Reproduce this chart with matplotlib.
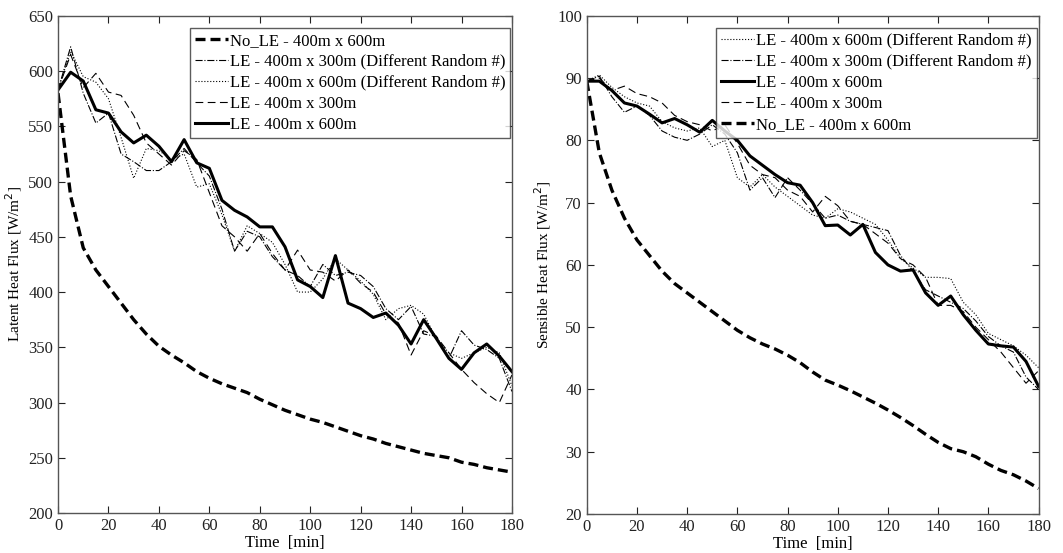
import numpy as np
import matplotlib
matplotlib.use('Agg')
import matplotlib.pyplot as plt

plt.rcParams['font.family'] = ['Liberation Serif', 'DejaVu Serif']

time = list(range(0, 181, 5))

# latent heat flux (left panel)
lat_nole = [580, 487, 440, 420, 405, 390, 375, 362, 351, 343, 336, 328, 322, 317, 313, 309, 303,
            298, 293, 289, 285, 282, 278, 274, 270, 267, 263, 260, 257, 254, 252, 250, 246, 244,
            241, 239, 237]
lat_600 = [583, 599, 591, 565, 562, 545, 535, 542, 532, 518, 538, 517, 512, 483, 474, 468, 459,
           459, 441, 411, 405, 395, 433, 390, 385, 377, 381, 370, 353, 375, 358, 340, 330, 345,
           353, 342, 328]
lat_300 = [583, 615, 585, 598, 581, 578, 560, 535, 525, 515, 528, 520, 490, 460, 450, 437, 453,
           435, 420, 438, 420, 418, 410, 420, 408, 400, 380, 372, 343, 365, 360, 345, 330, 318,
           308, 300, 325]
lat_300_rnd = [583, 622, 580, 553, 562, 525, 518, 510, 510, 518, 530, 517, 505, 475, 437, 455,
               450, 432, 420, 415, 405, 425, 415, 418, 415, 405, 385, 375, 387, 362, 360, 340,
               365, 352, 348, 340, 310]
lat_600_rnd = [583, 618, 595, 590, 575, 540, 503, 530, 528, 520, 525, 495, 498, 470, 437, 460,
               453, 445, 425, 400, 400, 412, 430, 420, 410, 398, 375, 385, 388, 380, 358, 345,
               340, 345, 350, 345, 315]

# sensible heat flux (right panel)
sen_nole = [89.5, 78, 72, 67.5, 64, 61.5, 59, 57, 55.5, 54, 52.5, 51, 49.5, 48.3, 47.3, 46.5,
            45.5, 44.3, 42.8, 41.5, 40.7, 39.8, 38.8, 37.8, 36.7, 35.5, 34.2, 32.8, 31.5, 30.5,
            30, 29.2, 28, 27, 26.3, 25.3, 24.1]
sen_600 = [89.5, 89.5, 88, 86, 85.5, 84.2, 82.8, 83.5, 82.5, 81.3, 83.2, 81.5, 80, 77.5, 76,
           74.5, 73.2, 72.8, 70, 66.3, 66.4, 64.8, 66.5, 62, 60, 59, 59.2, 55.5, 53.5, 55, 52,
           49.5, 47.3, 47, 46.8, 44.5, 40.5]
sen_300 = [89.5, 90, 88, 88.7, 87.5, 87, 86, 84, 83, 82.5, 81.5, 82.5, 79.5, 76, 74.5, 74, 72,
           71, 68.5, 71, 69.5, 67, 66.5, 65, 63.5, 61, 60, 58, 53.5, 53.5, 52.5, 50, 48, 46,
           43.5, 41, 43]
sen_300_rnd = [89.5, 90.3, 87, 84.5, 85.5, 84, 81.5, 80.5, 80, 81, 82.5, 81, 78, 72, 74, 70.8,
               74, 72, 69.8, 67.5, 68, 67, 66.5, 66, 65.5, 61.5, 59, 56, 55, 54, 53, 51, 48.5,
               47, 46, 42, 40]
sen_600_rnd = [89.5, 90.5, 88.5, 87, 86, 85.5, 83, 82, 81.5, 82, 79, 80, 74, 72.5, 74.5, 72.5,
               71, 69.5, 68, 67.5, 69, 68.5, 67.5, 66.5, 64, 61, 59.5, 58, 58, 57.8, 54, 52, 49,
               48, 47, 45.5, 43.5]

lab_nole = 'No_LE - 400m x 600m'
lab_600 = 'LE - 400m x 600m'
lab_300 = 'LE - 400m x 300m'
lab_300r = 'LE - 400m x 300m (Different Random #)'
lab_600r = 'LE - 400m x 600m (Different Random #)'

fig = plt.figure(figsize=(10.63, 5.53), dpi=100)
ax1 = fig.add_axes([0.0546, 0.0723, 0.427, 0.899])
ax2 = fig.add_axes([0.552, 0.0705, 0.425, 0.901])

def style(ax, ylo, yhi, ystep, ylabel):
    ax.set_xlim(0, 180)
    ax.set_ylim(ylo, yhi)
    ax.set_xticks(range(0, 181, 20))
    ax.set_yticks(np.arange(ylo, yhi + 1, ystep))
    ax.tick_params(direction='in', top=True, right=True, labelsize=12, length=5, width=0.8,
                   colors='#222222')
    for s in ax.spines.values():
        s.set_color('#555555')
        s.set_linewidth(1.0)
    ax.set_xlabel('Time  [min]', fontsize=12, labelpad=1)
    ax.set_ylabel(ylabel, fontsize=11, labelpad=3)

def add_legend(ax, handles):
    ax.legend(handles=handles, loc='upper right', fontsize=12, frameon=True,
              fancybox=False, edgecolor='#333333', handlelength=2.0, handletextpad=0.1,
              borderpad=0.3, labelspacing=0.3, borderaxespad=0,
              bbox_to_anchor=(0.996, 0.976))

k = 'black'
l1, = ax1.plot(time, lat_nole, color=k, lw=2.4, ls=(0, (3, 1.5)), label=lab_nole)
l2, = ax1.plot(time, lat_300_rnd, color=k, lw=0.8, ls='-.', label=lab_300r)
l3, = ax1.plot(time, lat_600_rnd, color=k, lw=0.8, ls=':', label=lab_600r)
l4, = ax1.plot(time, lat_300, color=k, lw=0.8, ls=(0, (7, 4)), label=lab_300)
l5, = ax1.plot(time, lat_600, color=k, lw=2.2, ls='-', label=lab_600)
style(ax1, 200, 650, 50, 'Latent Heat Flux [W/m$^2$]')
add_legend(ax1, [l1, l2, l3, l4, l5])

r1, = ax2.plot(time, sen_600_rnd, color=k, lw=0.8, ls=':', label=lab_600r)
r2, = ax2.plot(time, sen_300_rnd, color=k, lw=0.8, ls='-.', label=lab_300r)
r3, = ax2.plot(time, sen_600, color=k, lw=2.2, ls='-', label=lab_600)
r4, = ax2.plot(time, sen_300, color=k, lw=0.8, ls=(0, (7, 4)), label=lab_300)
r5, = ax2.plot(time, sen_nole, color=k, lw=2.4, ls=(0, (3, 1.5)), label=lab_nole)
style(ax2, 20, 100, 10, 'Sensible Heat Flux [W/m$^2$]')
add_legend(ax2, [r1, r2, r3, r4, r5])

fig.savefig('out.png', dpi=100)
